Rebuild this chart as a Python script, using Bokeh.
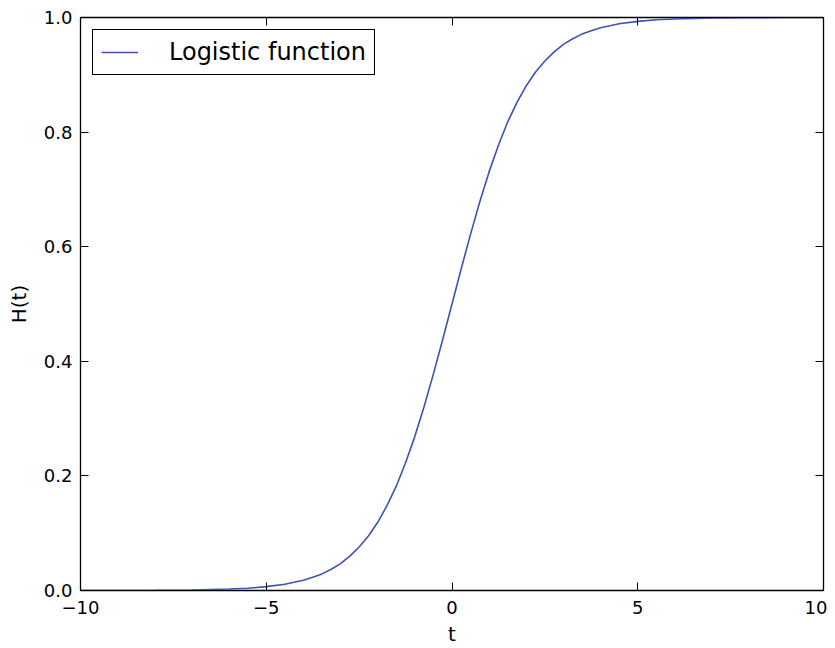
from bokeh.plotting import figure
from bokeh.models import LinearAxis, Legend, LegendItem, FixedTicker, Range1d
from bokeh.embed import file_html
from bokeh.resources import INLINE

t_values = [-10, -9, -8, -7, -6, -5.5, -5, -4.5, -4, -3.75, -3.5, -3.25, -3, -2.75, -2.5,
            -2.25, -2, -1.75, -1.5, -1.25, -1, -0.75, -0.5, -0.25, 0, 0.25, 0.5, 0.75, 1,
            1.25, 1.5, 1.75, 2, 2.25, 2.5, 2.75, 3, 3.25, 3.5, 3.75, 4, 4.5, 5, 5.5, 6, 7,
            8, 9, 10]
h_values = [0.00005, 0.0001, 0.0003, 0.0009, 0.0025, 0.004, 0.0067, 0.011, 0.018, 0.023,
            0.029, 0.037, 0.047, 0.060, 0.076, 0.095, 0.119, 0.148, 0.182, 0.223, 0.269,
            0.321, 0.378, 0.438, 0.5, 0.562, 0.622, 0.679, 0.731, 0.777, 0.818, 0.852,
            0.881, 0.905, 0.924, 0.940, 0.953, 0.963, 0.971, 0.977, 0.982, 0.989, 0.9933,
            0.996, 0.9975, 0.9991, 0.9997, 0.9999, 0.99995]
x_ticks = [-10, -5, 0, 5, 10]
y_ticks = [0.0, 0.2, 0.4, 0.6, 0.8, 1.0]
y_tick_labels = {0.0: "0.0", 0.2: "0.2", 0.4: "0.4", 0.6: "0.6", 0.8: "0.8", 1.0: "1.0"}
x_tick_labels = {-10: "\u221210", -5: "\u22125", 0: "0", 5: "5", 10: "10"}
series_name = "Logistic function"

FONT = "DejaVu Sans"

p = figure(width=827, height=648, output_backend="svg", toolbar_location=None,
           x_range=Range1d(-10, 10), y_range=Range1d(0, 1),
           min_border_left=80, min_border_right=4, min_border_top=17, min_border_bottom=50)
p.grid.visible = False
p.outline_line_color = "black"
p.outline_line_width = 1.3
p.background_fill_color = "white"
p.border_fill_color = "white"

r = p.line(t_values, h_values, line_color="#3f51b5", line_width=1.6)

def style(ax, labels=True):
    ax.major_tick_in = 8
    ax.major_tick_out = 0
    ax.minor_tick_in = 0
    ax.minor_tick_out = 0
    ax.axis_line_color = "black"
    ax.major_tick_line_color = "black"
    ax.major_label_text_font = FONT
    ax.major_label_text_font_size = "18px"
    ax.major_label_text_color = "black"
    ax.axis_label_text_font = FONT
    ax.axis_label_text_font_size = "20px"
    ax.axis_label_text_font_style = "normal"
    ax.axis_label_text_color = "black"
    if not labels:
        ax.major_label_text_font_size = "0px"
        ax.major_label_text_alpha = 0

xa = p.xaxis[0]
xa.ticker = FixedTicker(ticks=x_ticks)
xa.major_label_overrides = x_tick_labels
xa.axis_label = "t"
xa.major_label_standoff = 10
xa.axis_label_standoff = 5
style(xa)

ya = p.yaxis[0]
ya.ticker = FixedTicker(ticks=y_ticks)
ya.major_label_overrides = y_tick_labels
ya.axis_label = "H(t)"
ya.major_label_standoff = 8
ya.axis_label_standoff = 10
style(ya)

top = LinearAxis(ticker=FixedTicker(ticks=x_ticks), major_label_overrides={k: "" for k in x_ticks})
style(top, labels=False)
top.major_label_standoff = 0
p.add_layout(top, "above")
right = LinearAxis(ticker=FixedTicker(ticks=y_ticks), major_label_overrides={k: "" for k in y_ticks})
style(right, labels=False)
right.major_label_standoff = 0
p.add_layout(right, "right")

legend = Legend(items=[LegendItem(label=series_name, renderers=[r])], location="top_left")
legend.label_text_font = FONT
legend.label_text_font_size = "24px"
legend.label_text_color = "black"
legend.border_line_color = "black"
legend.border_line_width = 1.3
legend.border_line_alpha = 1
legend.background_fill_alpha = 1
legend.glyph_width = 37
legend.label_standoff = 31
legend.padding = 8
legend.margin = 12
legend.spacing = 0
legend.label_height = 24
legend.glyph_height = 24
p.add_layout(legend)

open("out.html", "w").write(file_html(p, INLINE))
